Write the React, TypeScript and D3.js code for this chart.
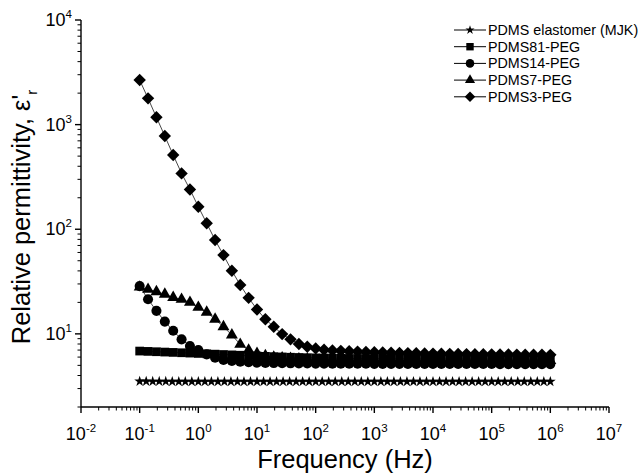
import React from "react";
import * as d3 from "d3";

const FREQ = [
  0.1, 0.1389, 0.1931, 0.2683, 0.3728, 0.5179, 0.7197,
  1, 1.389, 1.931, 2.683, 3.728, 5.179, 7.197,
  10, 13.89, 19.31, 26.83, 37.28, 51.79, 71.97,
  100, 138.9, 193.1, 268.3, 372.8, 517.9, 719.7,
  1000, 1389, 1931, 2683, 3728, 5179, 7197,
  10000, 13890, 19310, 26830, 37280, 51790, 71970,
  100000, 138900, 193100, 268300, 372800, 517900, 719700,
  1000000,
];

const STAR_FREQ = [
  0.1, 0.1292, 0.1668, 0.2154, 0.2783, 0.3594, 0.4642, 0.5995, 0.7743,
  1, 1.292, 1.668, 2.154, 2.783, 3.594, 4.642, 5.995, 7.743,
  10, 12.92, 16.68, 21.54, 27.83, 35.94, 46.42, 59.95, 77.43,
  100, 129.2, 166.8, 215.4, 278.3, 359.4, 464.2, 599.5, 774.3,
  1000, 1292, 1668, 2154, 2783, 3594, 4642, 5995, 7743,
  10000, 12920, 16680, 21540, 27830, 35940, 46420, 59950, 77430,
  100000, 129200, 166800, 215400, 278300, 359400, 464200, 599500, 774300,
  1000000,
];

const PDMS_ELASTOMER = [
  3.52, 3.52, 3.51, 3.51, 3.51, 3.5, 3.5, 3.5, 3.5,
  3.5, 3.5, 3.5, 3.5, 3.5, 3.5, 3.5, 3.5, 3.5,
  3.5, 3.5, 3.5, 3.5, 3.5, 3.5, 3.5, 3.5, 3.5,
  3.5, 3.5, 3.5, 3.5, 3.5, 3.5, 3.5, 3.5, 3.5,
  3.5, 3.5, 3.5, 3.5, 3.5, 3.5, 3.5, 3.5, 3.5,
  3.5, 3.5, 3.5, 3.5, 3.5, 3.5, 3.5, 3.5, 3.5,
  3.5, 3.5, 3.5, 3.5, 3.5, 3.5, 3.5, 3.5, 3.5,
  3.5,
];

const PDMS81 = [
  6.85, 6.8, 6.75, 6.7, 6.65, 6.6, 6.55,
  6.5, 6.45, 6.4, 6.35, 6.3, 6.25, 6.2,
  6.15, 6.1, 6.06, 6.02, 5.98, 5.95, 5.92,
  5.9, 5.88, 5.86, 5.84, 5.82, 5.81, 5.8,
  5.79, 5.78, 5.77, 5.77, 5.76, 5.76, 5.75,
  5.75, 5.75, 5.74, 5.74, 5.74, 5.73, 5.73,
  5.73, 5.73, 5.72, 5.72, 5.72, 5.72, 5.72,
  5.72,
];

const PDMS14 = [
  28.6, 21.4, 16.6, 13.1, 10.7, 8.86, 7.64,
  7.0, 6.37, 5.91, 5.62, 5.5, 5.42, 5.36,
  5.31, 5.28, 5.26, 5.24, 5.23, 5.22, 5.21,
  5.2, 5.2, 5.19, 5.19, 5.18, 5.18, 5.18,
  5.17, 5.17, 5.17, 5.17, 5.16, 5.16, 5.16,
  5.16, 5.16, 5.15, 5.15, 5.15, 5.15, 5.15,
  5.15, 5.14, 5.14, 5.14, 5.14, 5.14, 5.14,
  5.14,
];

const PDMS7 = [
  28, 26.6, 25.3, 23.9, 22.3, 21.4, 20.0,
  17.9, 16.1, 13.8, 11.7, 9.75, 7.94, 7.0,
  6.5, 6.2, 6.0, 5.9, 5.82, 5.77, 5.73,
  5.7, 5.68, 5.66, 5.64, 5.63, 5.62, 5.61,
  5.6, 5.6, 5.59, 5.59, 5.58, 5.58, 5.58,
  5.57, 5.57, 5.57, 5.57, 5.56, 5.56, 5.56,
  5.56, 5.56, 5.55, 5.55, 5.55, 5.55, 5.55,
  5.55,
];

const PDMS3 = [
  2667, 1782, 1175, 778, 512, 342, 240,
  164, 114, 78.8, 56.6, 40.1, 29.3, 22.1,
  17.1, 13.8, 11.7, 9.95, 8.86, 8.0, 7.53,
  7.26, 7.05, 6.95, 6.88, 6.82, 6.77, 6.72,
  6.68, 6.64, 6.61, 6.58, 6.55, 6.52, 6.5,
  6.48, 6.46, 6.44, 6.42, 6.41, 6.4, 6.38,
  6.37, 6.36, 6.35, 6.34, 6.33, 6.32, 6.31,
  6.3,
];

const SERIES_NAMES = [
  "PDMS elastomer (MJK)",
  "PDMS81-PEG",
  "PDMS14-PEG",
  "PDMS7-PEG",
  "PDMS3-PEG",
];

const X_TICK_EXPONENTS = ["-2", "-1", "0", "1", "2", "3", "4", "5", "6", "7"];
const Y_TICK_EXPONENTS = ["1", "2", "3", "4"];

const W = 640;
const H = 473;
const FONT = "'Liberation Sans', Arial, Helvetica, sans-serif";

type Marker = "star" | "square" | "circle" | "triangle" | "diamond";

function markerPath(kind: Marker, scale: number): string {
  switch (kind) {
    case "star":
      return d3.symbol().type(d3.symbolStar).size(36 * scale * scale)()!;
    case "square":
      return d3.symbol().type(d3.symbolSquare).size(76 * scale * scale)()!;
    case "circle":
      return d3.symbol().type(d3.symbolCircle).size(80 * scale * scale)()!;
    case "triangle":
      return d3.symbol().type(d3.symbolTriangle).size(62 * scale * scale)()!;
    case "diamond": {
      const r = 6.2 * scale;
      return `M0,${-r}L${r},0L0,${r}L${-r},0Z`;
    }
  }
}

export default function App() {
  const x = d3.scaleLog().domain([0.01, 1e7]).range([81, 609]);
  const y = d3.scaleLog().domain([2, 1e4]).range([407, 20]);

  const series: { name: string; freq: number[]; vals: number[]; marker: Marker }[] = [
    { name: SERIES_NAMES[0], freq: STAR_FREQ, vals: PDMS_ELASTOMER, marker: "star" },
    { name: SERIES_NAMES[1], freq: FREQ, vals: PDMS81, marker: "square" },
    { name: SERIES_NAMES[2], freq: FREQ, vals: PDMS14, marker: "circle" },
    { name: SERIES_NAMES[3], freq: FREQ, vals: PDMS7, marker: "triangle" },
    { name: SERIES_NAMES[4], freq: FREQ, vals: PDMS3, marker: "diamond" },
  ];

  const line = d3
    .line<[number, number]>()
    .x((d) => x(d[0]))
    .y((d) => y(d[1]));

  const xMajor = X_TICK_EXPONENTS.map((e) => Math.pow(10, +e));
  const xMinor: number[] = [];
  for (let e = -2; e < 7; e++) for (let k = 2; k <= 9; k++) xMinor.push(k * Math.pow(10, e));
  const yMajor = Y_TICK_EXPONENTS.map((e) => Math.pow(10, +e));
  const yMinor: number[] = [];
  for (let e = 0; e < 4; e++)
    for (let k = 2; k <= 9; k++) {
      const v = k * Math.pow(10, e);
      if (v >= 2 && v < 1e4) yMinor.push(v);
    }

  const [x0, x1] = x.range();
  const [y0, y1] = y.range();

  return (
    <svg
      width={W}
      height={H}
      viewBox={`0 0 ${W} ${H}`}
      style={{ position: "absolute", left: 0, top: 0, background: "#fff" }}
      fontFamily={FONT}
    >
      <rect x={0} y={0} width={W} height={H} fill="#fff" />

      {series.map((s) => (
        <path
          key={"l" + s.name}
          d={line(s.freq.map((f, i) => [f, s.vals[i]] as [number, number]))!}
          fill="none"
          stroke="#333"
          strokeWidth={0.9}
        />
      ))}
      {series.map((s) => (
        <g key={"m" + s.name}>
          {s.freq.map((f, i) => (
            <path
              key={i}
              d={markerPath(s.marker, 1)}
              transform={`translate(${x(f)},${y(s.vals[i])})`}
              fill="#000"
            />
          ))}
        </g>
      ))}

      <g stroke="#000" strokeWidth={1.4} fill="none">
        <line x1={x0} x2={x1} y1={y0} y2={y0} />
        <line x1={x0} x2={x0} y1={y0} y2={y1} />
        {xMajor.map((v) => (
          <line key={"xM" + v} x1={x(v)} x2={x(v)} y1={y0} y2={y0 + 6} />
        ))}
        {xMinor.map((v) => (
          <line key={"xm" + v} x1={x(v)} x2={x(v)} y1={y0} y2={y0 + 3.5} strokeWidth={1} />
        ))}
        {yMajor.map((v) => (
          <line key={"yM" + v} x1={x0} x2={x0 - 6} y1={y(v)} y2={y(v)} />
        ))}
        {yMinor.map((v) => (
          <line key={"ym" + v} x1={x0} x2={x0 - 3.5} y1={y(v)} y2={y(v)} strokeWidth={1} />
        ))}
      </g>

      {xMajor.map((v, i) => (
        <text key={"xl" + v} x={x(v)} y={440} textAnchor="middle" fontSize={18} fill="#000">
          10
          <tspan fontSize={11.5} dy={-8}>
            {X_TICK_EXPONENTS[i]}
          </tspan>
        </text>
      ))}
      {yMajor.map((v, i) => (
        <text key={"yl" + v} x={72} y={y(v) + 6} textAnchor="end" fontSize={18} fill="#000">
          10
          <tspan fontSize={11.5} dy={-8}>
            {Y_TICK_EXPONENTS[i]}
          </tspan>
        </text>
      ))}

      <text x={345} y={468} textAnchor="middle" fontSize={25.5} fill="#000">
        Frequency (Hz)
      </text>
      <text
        transform={`translate(30,${217}) rotate(-90)`}
        textAnchor="middle"
        fontSize={25.5}
        fill="#000"
      >
        Relative permittivity, ε'
        <tspan fontSize={15} dy={7}>
          r
        </tspan>
      </text>

      {series.map((s, i) => {
        const ly = 30 + i * 16.7;
        return (
          <g key={"lg" + s.name}>
            <line x1={454} x2={486} y1={ly} y2={ly} stroke="#000" strokeWidth={1} />
            <path d={markerPath(s.marker, 0.85)} transform={`translate(470,${ly})`} fill="#000" />
            <text x={488} y={ly + 5} fontSize={14.3} fill="#000">
              {s.name}
            </text>
          </g>
        );
      })}
    </svg>
  );
}
